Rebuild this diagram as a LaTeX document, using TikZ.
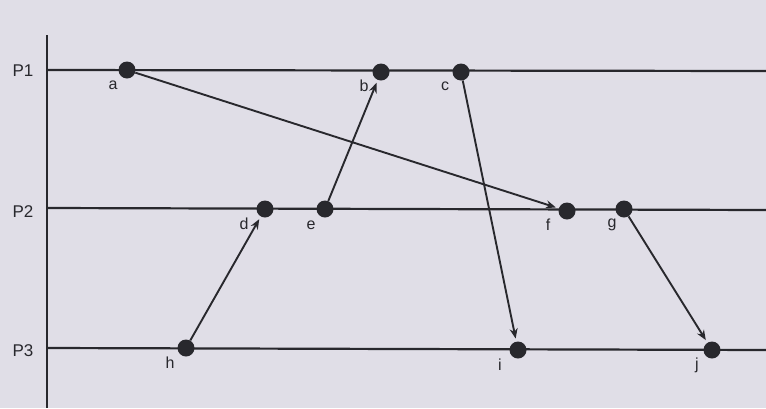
\documentclass[tikz,border=0pt]{standalone}
\usepackage{fontspec}
\setmainfont{Liberation Sans}
\usetikzlibrary{arrows.meta}
\definecolor{paper}{RGB}{224,222,231}
\definecolor{ink}{RGB}{40,40,45}
\begin{document}
\begin{tikzpicture}[x=1pt,y=-1pt,
  ev/.style={circle,fill=ink,inner sep=0pt,minimum size=17pt},
  lbl/.style={text=ink,font=\fontsize{16}{16}\selectfont,inner sep=0pt},
  proc/.style={text=ink,font=\fontsize{17}{17}\selectfont,inner sep=0pt},
  tl/.style={draw=ink,line width=2.2pt},
  msg/.style={draw=ink,line width=1.9pt,-{Stealth[length=10pt,width=8pt]},shorten >=3pt}]
\fill[paper] (0,0) rectangle (766,408);
\useasboundingbox (0,0) rectangle (766,408);
\coordinate (vt) at (47,35);
\coordinate (vb) at (47,408);
\draw[tl] (vt) -- (vb);
\coordinate (l1) at (47,70); \coordinate (r1) at (766,71);
\coordinate (l2) at (47,208); \coordinate (r2) at (766,210);
\coordinate (l3) at (47,348); \coordinate (r3) at (766,350);
\draw[tl] (l1) -- (r1);
\draw[tl] (l2) -- (r2);
\draw[tl] (l3) -- (r3);
\node[proc] (p1) at (23,71) {P1};
\node[proc] (p2) at (23,212) {P2};
\node[proc] (p3) at (23,351) {P3};
\node[ev] (a) at (127,70) {};
\node[ev] (b) at (381,72) {};
\node[ev] (c) at (461,72) {};
\node[ev] (d) at (265,209) {};
\node[ev] (e) at (325,209) {};
\node[ev] (f) at (567,211) {};
\node[ev] (g) at (624,209) {};
\node[ev] (h) at (186,348) {};
\node[ev] (i) at (518,350) {};
\node[ev] (j) at (712,350) {};
\node[lbl] (la) at (113,85) {a};
\node[lbl] (lb) at (364,86) {b};
\node[lbl] (lc) at (445,86) {c};
\node[lbl] (ld) at (244,224) {d};
\node[lbl] (le) at (311,225) {e};
\node[lbl] (lf) at (548,225) {f};
\node[lbl] (lg) at (612,225) {g};
\node[lbl] (lh) at (170,363) {h};
\node[lbl] (li) at (500,365) {i};
\node[lbl] (lj) at (697,365) {j};
\draw[msg] (a) -- (f);
\draw[msg] (e) -- (b);
\draw[msg] (c) -- (i);
\draw[msg] (h) -- (d);
\draw[msg] (g) -- (j);
\end{tikzpicture}
\end{document}
